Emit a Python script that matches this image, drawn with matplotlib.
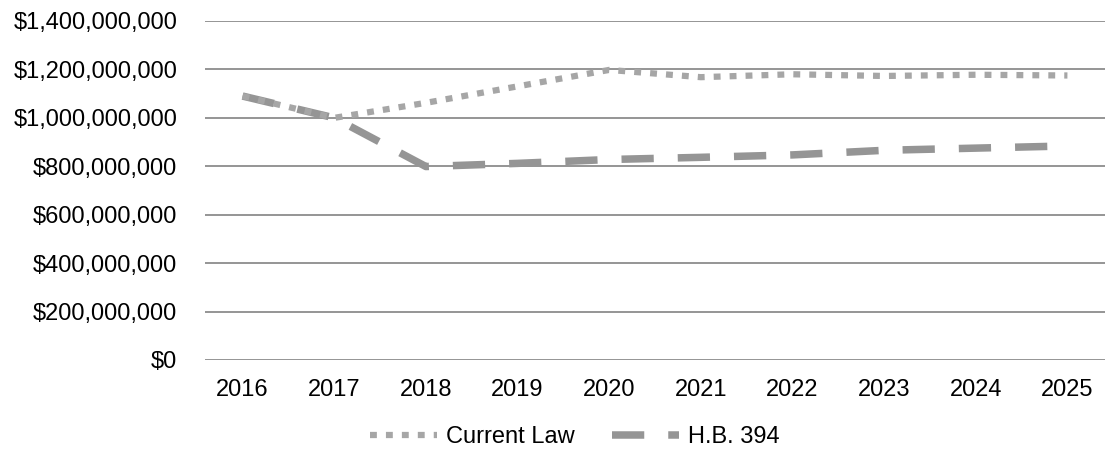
import matplotlib.pyplot as plt
from matplotlib.ticker import FuncFormatter

# --- Data ---
years = [2016, 2017, 2018, 2019, 2020, 2021, 2022, 2023, 2024, 2025]
current_law = [1090e6, 1000e6, 1062e6, 1130e6, 1198e6, 1168e6, 1180e6, 1173e6, 1178e6, 1175e6]
hb_394 = [1090e6, 1000e6, 799e6, 812e6, 828e6, 837e6, 847e6, 866e6, 875e6, 884e6]
y_ticks = [0, 200e6, 400e6, 600e6, 800e6, 1000e6, 1200e6, 1400e6]

plt.rcParams["font.family"] = ["Liberation Sans", "DejaVu Sans"]

fig = plt.figure(figsize=(11.07, 4.51), dpi=100)
ax = fig.add_axes([205 / 1107, 1 - 360 / 451, 900 / 1107, 339 / 451])

x = list(range(len(years)))
ax.plot(x, current_law, color="#a6a6a6", linewidth=4.5, dashes=(1.1, 1.45),
        dash_capstyle="butt", label="Current Law", zorder=3)
ax.plot(x, hb_394, color="#959595", linewidth=5.4, dashes=(4.3, 3.2),
        dash_capstyle="butt", label="H.B. 394", zorder=2)

ax.set_xlim(-0.41, len(years) - 0.59)
ax.set_ylim(0, 1400e6)
ax.set_xticks(x)
ax.set_xticklabels([str(y) for y in years])
ax.set_yticks(y_ticks)
ax.yaxis.set_major_formatter(FuncFormatter(lambda v, p: f"${v:,.0f}"))
ax.tick_params(length=0, labelsize=17)
ax.tick_params(axis="y", pad=20)
ax.tick_params(axis="x", pad=14)

ax.grid(axis="y", color="#8c8c8c", linewidth=1.3)
ax.set_axisbelow(True)
for s in ax.spines.values():
    s.set_visible(False)

fig.legend(loc="center", bbox_to_anchor=(575 / 1107, 1 - 437 / 451), ncol=2, frameon=False,
           fontsize=17, handlelength=2.8, handletextpad=0.4, columnspacing=1.6,
           borderaxespad=0, borderpad=0)

fig.savefig("out.png", dpi=100)
